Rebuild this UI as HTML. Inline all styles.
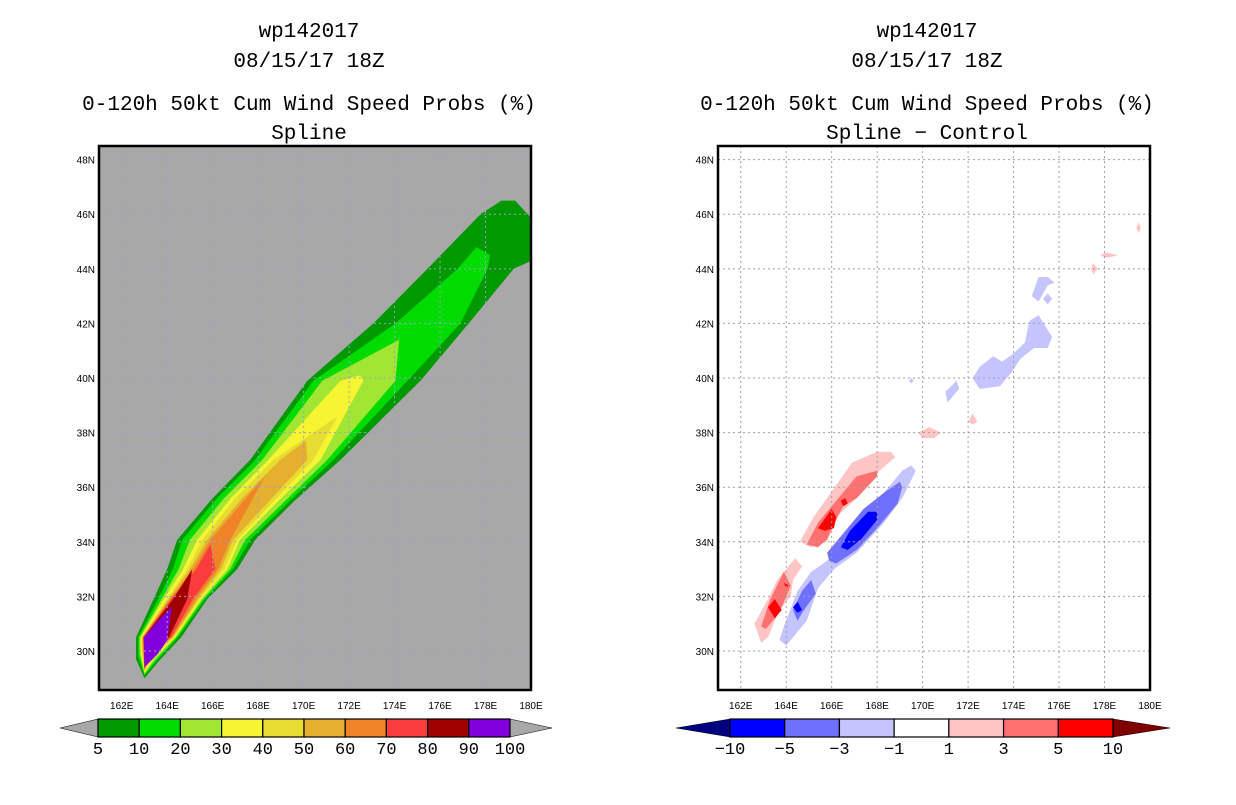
<!DOCTYPE html>
<html><head><meta charset="utf-8"><style>
body{margin:0;background:#fff;}
svg text{font-family:"Liberation Mono",monospace;fill:#000;}
svg text.tk{font-family:"Liberation Sans",sans-serif;}
</style></head><body>
<svg id="fig" width="1236" height="800" viewBox="0 0 1236 800" xmlns="http://www.w3.org/2000/svg">
<g font-size="21" text-anchor="middle">
<text x="309" y="37">wp142017</text><text x="309" y="67">08/15/17 18Z</text>
<text x="309" y="110">0-120h 50kt Cum Wind Speed Probs (%)</text><text x="309" y="139">Spline</text></g>
<g font-size="21" text-anchor="middle">
<text x="927" y="37">wp142017</text><text x="927" y="67">08/15/17 18Z</text>
<text x="927" y="110">0-120h 50kt Cum Wind Speed Probs (%)</text><text x="927" y="139">Spline − Control</text></g>
<defs>
<clipPath id="clipL"><rect x="99" y="146" width="432" height="544"/></clipPath>
<clipPath id="clipR"><rect x="718" y="146" width="432" height="544"/></clipPath>
</defs>
<g id="left"></g>
<g id="right"></g>
<g id="cbl"></g>
<g id="cbr"></g>
</svg>
<script>
const NS="http://www.w3.org/2000/svg";
const lonTicks=[162,164,166,168,170,172,174,176,178,180];
const latTicks=[30,32,34,36,38,40,42,44,46,48];
const probLevels=[5,10,20,30,40,50,60,70,80,90,100];
const probColors=["#009a00","#00dc00","#a0e632","#f5f532","#e6dc32","#e6af2d","#f08228","#fa3c3c","#a00000","#8200dc"];
const diffLevels=["−10","−5","−3","−1","1","3","5","10"];
const diffColors=["#0000ff","#7070ff","#c4c4ff","#ffffff","#ffc4c4","#ff7070","#ff0000"];
// probability contours (level index, lon/lat polygon)
const probPolys=[
[0,[[162.63,29.7],[162.63,30.5],[163.4,31.9],[164.0,33.0],[164.44,34.07],[166.0,35.6],[167.65,37.0],[170.16,39.9],[173.07,42.0],[175.45,44.0],[177.78,46.0],[178.7,46.5],[179.3,46.5],[180.3,45.6],[180.3,44.4],[179.24,44.0],[177.26,42.0],[175.14,39.9],[171.62,37.0],[169.6,35.5],[167.87,34.07],[167.08,33.0],[165.76,31.9],[164.61,30.5],[163.6,29.6],[163.0,29.0]]],
[1,[[162.72,29.8],[162.72,30.5],[163.6,31.9],[164.25,33.0],[164.66,34.07],[166.2,35.6],[167.87,37.0],[170.43,39.9],[174.04,42.0],[176.77,44.0],[177.6,44.8],[178.2,44.5],[178.09,44.0],[176.9,42.0],[174.57,39.9],[171.31,37.0],[169.4,35.5],[167.65,34.07],[166.9,33.0],[165.67,31.9],[164.48,30.5],[163.5,29.6],[163.0,29.1]]],
[2,[[162.78,29.9],[162.78,30.5],[163.75,31.9],[164.5,33.0],[165.0,34.07],[166.5,35.6],[168.18,37.0],[170.82,39.9],[174.2,41.4],[174.04,39.9],[171.04,37.0],[169.2,35.5],[167.43,34.07],[166.77,33.0],[165.58,31.9],[164.4,30.5],[163.45,29.65],[163.0,29.15]]],
[3,[[162.83,30.0],[162.83,30.5],[163.85,31.9],[164.7,33.0],[165.32,34.07],[166.8,35.6],[168.44,37.0],[171.62,39.9],[172.5,40.1],[172.63,39.9],[170.74,37.0],[168.9,35.5],[167.2,34.07],[166.64,33.0],[165.5,31.9],[164.35,30.5],[163.4,29.7],[163.0,29.2]]],
[4,[[162.87,30.1],[162.87,30.5],[164.0,31.9],[164.88,33.0],[165.54,34.07],[167.0,35.6],[168.67,37.0],[171.5,38.6],[170.43,37.0],[168.7,35.5],[167.08,34.07],[166.51,33.0],[165.43,31.9],[164.3,30.5],[163.35,29.75],[163.0,29.25]]],
[5,[[162.9,30.2],[162.9,30.5],[164.06,31.9],[165.0,33.0],[165.76,34.07],[167.3,35.6],[168.97,37.0],[170.1,37.7],[170.16,37.0],[168.5,35.5],[166.9,34.07],[166.37,33.0],[165.36,31.9],[164.25,30.5],[163.3,29.8],[163.0,29.3]]],
[6,[[162.93,30.3],[162.93,30.5],[164.13,31.9],[165.14,33.0],[165.89,34.07],[168.3,36.4],[166.77,34.07],[166.24,33.0],[165.27,31.9],[164.22,30.5],[163.25,29.85],[163.0,29.3]]],
[7,[[162.95,30.4],[162.95,30.5],[164.17,31.9],[165.27,33.0],[165.9,33.9],[166.11,33.0],[165.14,31.9],[164.17,30.5],[163.2,29.9],[163.0,29.35]]],
[8,[[162.97,30.5],[164.26,31.9],[165.1,33.0],[164.88,31.9],[164.08,30.5],[163.15,29.9],[163.0,29.35]]],
[9,[[162.98,30.5],[163.7,31.2],[164.2,31.6],[164.0,30.4],[163.6,29.9],[163.0,29.4]]]
];
// difference contours (color index, lon/lat polygon)
const diffPolys=[
[4,[[164.6,34.0],[165.2,34.9],[165.8,35.6],[166.9,36.9],[168.0,37.3],[168.6,37.3],[168.8,37.1],[168.1,36.6],[167.1,35.6],[166.2,34.9],[165.8,34.0],[165.1,33.8]]],
[5,[[164.9,33.9],[165.4,34.7],[166.2,35.5],[167.1,36.4],[168.0,36.6],[168.0,36.4],[167.1,35.6],[166.5,35.3],[166.2,34.8],[165.8,34.1],[165.4,33.8]]],
[6,[[165.4,34.5],[166.0,35.2],[166.2,34.9],[166.1,34.5],[165.7,34.4]]],
[6,[[166.4,35.5],[166.6,35.6],[166.7,35.4],[166.5,35.3]]],
[4,[[162.6,31.0],[163.2,31.9],[163.6,32.6],[164.4,33.4],[164.7,33.1],[164.3,32.6],[164.2,32.0],[163.7,31.5],[163.2,30.5],[162.9,30.3]]],
[5,[[162.9,30.9],[163.3,31.9],[163.9,32.9],[164.2,32.4],[163.7,31.4],[163.1,30.8]]],
[6,[[163.2,31.6],[163.5,31.9],[163.8,31.5],[163.5,31.2]]],
[6,[[163.9,32.5],[164.1,32.4],[164.0,32.3]]],
[2,[[163.7,30.4],[163.9,30.9],[164.5,32.2],[165.1,32.9],[165.8,33.3],[166.5,34.1],[167.4,35.1],[168.3,35.8],[169.1,36.6],[169.5,36.8],[169.7,36.6],[169.1,35.6],[168.3,34.7],[167.1,33.6],[166.1,33.0],[165.4,32.3],[164.9,31.1],[164.3,30.5],[164.0,30.2]]],
[1,[[164.3,31.5],[164.7,32.2],[165.1,32.6],[165.3,32.1],[164.7,31.4],[164.5,31.1]]],
[1,[[165.8,33.6],[166.5,34.3],[167.4,35.2],[168.3,35.8],[169.0,36.2],[169.1,36.0],[168.9,35.4],[168.0,34.5],[167.1,33.7],[166.2,33.2],[165.9,33.3]]],
[0,[[166.4,33.8],[166.8,34.4],[167.6,35.1],[168.0,35.1],[168.0,34.8],[167.3,34.1],[166.7,33.7]]],
[0,[[164.3,31.6],[164.5,31.8],[164.7,31.5],[164.5,31.4]]],
[2,[[172.2,40.0],[172.5,40.4],[173.1,40.8],[173.5,40.6],[174.0,40.9],[174.5,41.3],[174.7,42.1],[175.1,42.3],[175.7,41.5],[175.5,41.1],[174.9,41.1],[174.3,40.7],[173.9,40.2],[173.4,39.7],[172.5,39.6]]],
[2,[[174.8,43.0],[175.1,43.7],[175.5,43.7],[175.8,43.5],[175.5,43.4],[175.1,42.8]]],
[2,[[175.5,43.1],[175.7,42.9],[175.5,42.7],[175.3,42.9]]],
[2,[[171.0,39.5],[171.5,39.9],[171.6,39.6],[171.1,39.1]]],
[2,[[169.5,40.0],[169.6,39.9],[169.5,39.8],[169.4,39.9]]],
[4,[[169.8,38.0],[170.3,38.2],[170.8,38.0],[170.5,37.8],[170.0,37.8]]],
[4,[[172.2,38.7],[172.4,38.4],[172.2,38.3],[172.0,38.4]]],
[4,[[177.5,44.2],[177.7,44.0],[177.5,43.8],[177.4,44.0]]],
[4,[[177.8,44.5],[178.1,44.6],[178.6,44.5],[178.1,44.4]]],
[4,[[179.5,45.7],[179.6,45.5],[179.5,45.3],[179.4,45.5]]]
];
function el(tag,attrs,parent){const e=document.createElementNS(NS,tag);for(const k in attrs)e.setAttribute(k,attrs[k]);parent.appendChild(e);return e;}
function panel(g,x0,bg,polys,colors,gridCol,gridDash,clip){
  const x1=x0+432,y0=146,y1=690;
  const X=lon=>x0+(lon-161)*(x1-x0)/19, Y=lat=>y1-(lat-28.57)*(y1-y0)/(48.5-28.57);
  const r=el('rect',{x:x0,y:y0,width:x1-x0,height:y1-y0,fill:bg},g);
  
  const cg=el('g',{'clip-path':'url(#'+clip+')'},g);
  
  polys.forEach(p=>{const pg=el('polygon',{points:p[1].map(q=>X(q[0]).toFixed(1)+','+Y(q[1]).toFixed(1)).join(' '),fill:colors[p[0]],'stroke-linejoin':'round'},cg);
    });
  lonTicks.forEach(t=>{if(t<180){const l=el('line',{x1:X(t),x2:X(t),y1:y0,y2:y1,stroke:gridCol,'stroke-dasharray':gridDash,'stroke-width':1},g);
    }
    const tx=el('text',{x:X(t),y:709,'font-size':10,'text-anchor':'middle','class':'tk'},g);tx.textContent=t+'E';
    });
  latTicks.forEach(t=>{const l=el('line',{x1:x0,x2:x1,y1:Y(t),y2:Y(t),stroke:gridCol,'stroke-dasharray':gridDash,'stroke-width':1},g);
    
    const tx=el('text',{x:x0-4,y:Y(t)+4,'font-size':10,'text-anchor':'end','class':'tk'},g);tx.textContent=t+'N';
    });
  const f=el('rect',{x:x0,y:y0,width:x1-x0,height:y1-y0,fill:'none',stroke:'#000','stroke-width':2.5},g);
  
}
panel(document.getElementById('left'),99,'#a8a8a8',probPolys,probColors,'#a0a0c8','2,3','clipL');
panel(document.getElementById('right'),718,'#ffffff',diffPolys,diffColors,'#a0a0a0','2,3','clipR');
function colorbar(g,tl,bx0,bx1,tr,colors,labels,lc,rc){
  const y0=719,y1=737,ym=728,w=(bx1-bx0)/colors.length;
  const a=el('polygon',{points:`${tl},${ym} ${bx0},${y0} ${bx0},${y1}`,fill:lc,stroke:'#000','stroke-width':0.5},g);
  
  const b=el('polygon',{points:`${tr},${ym} ${bx1},${y0} ${bx1},${y1}`,fill:rc,stroke:'#000','stroke-width':0.5},g);
  
  colors.forEach((c,i)=>{const r=el('rect',{x:bx0+i*w,y:y0,width:w,height:y1-y0,fill:c,stroke:'#000','stroke-width':1.2},g);
    });
  labels.forEach((t,i)=>{const tx=el('text',{x:bx0+i*w,y:754,'font-size':17,'text-anchor':'middle'},g);tx.textContent=t;
    });
}
colorbar(document.getElementById('cbl'),60,98,510,552,probColors,probLevels,'#a8a8a8','#a8a8a8');
colorbar(document.getElementById('cbr'),676,730,1113,1170,diffColors,diffLevels,'#000080','#800000');
</script>
</body></html>
